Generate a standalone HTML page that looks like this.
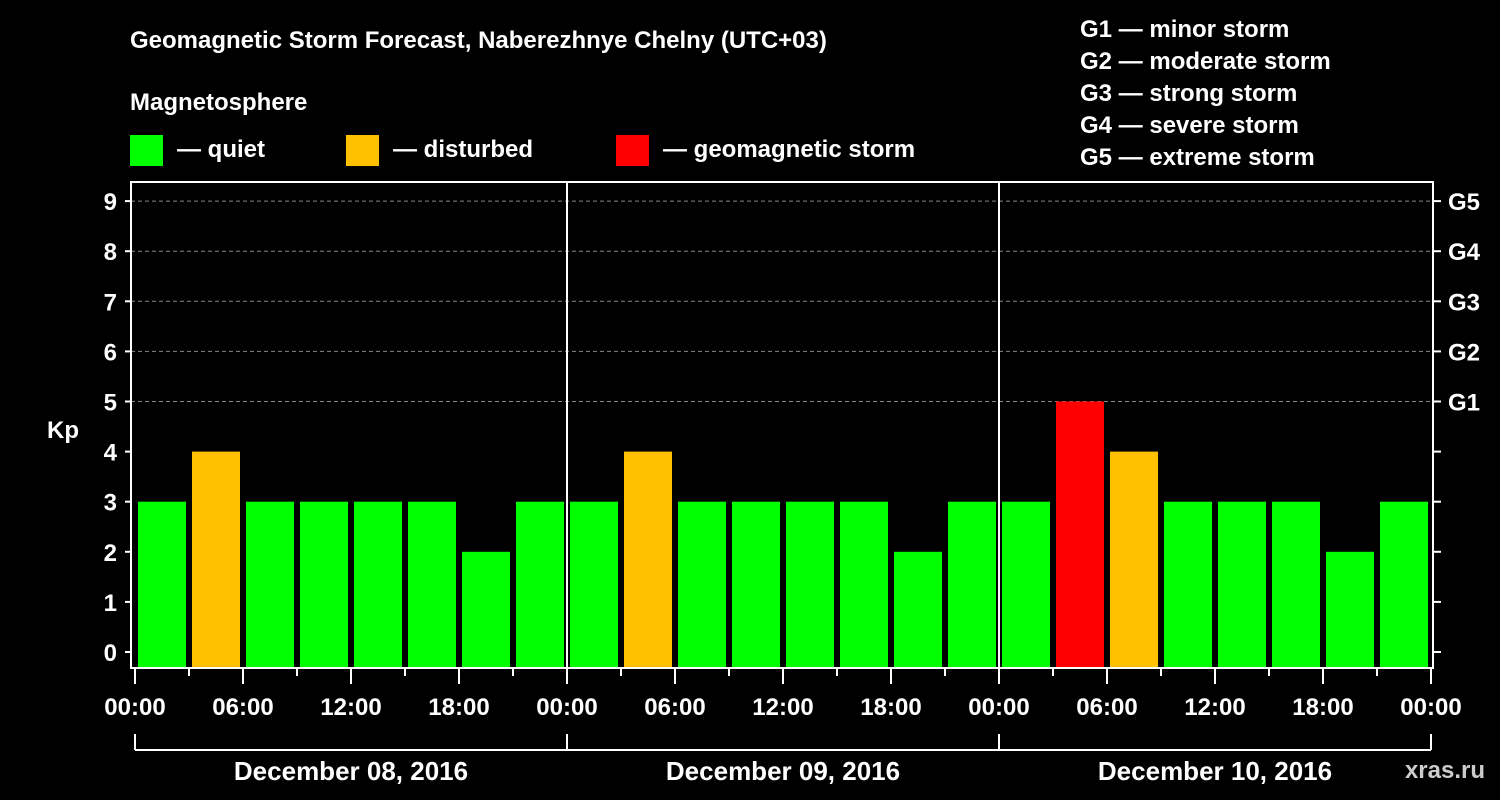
<!DOCTYPE html>
<html><head><meta charset="utf-8"><style>
body{margin:0;background:#000;width:1500px;height:800px;overflow:hidden}
svg{display:block}
text{font-family:"Liberation Sans",sans-serif;font-weight:bold;fill:#fff}
</style></head><body>
<svg id="c" width="1500" height="800">
<text x="130" y="48" font-size="24">Geomagnetic Storm Forecast, Naberezhnye Chelny (UTC+03)</text>
<text x="130" y="110" font-size="24">Magnetosphere</text>
<rect x="130" y="135" width="33" height="31" fill="#00ff00"/>
<text x="177" y="157" font-size="24">— quiet</text>
<rect x="346" y="135" width="33" height="31" fill="#ffc000"/>
<text x="393" y="157" font-size="24">— disturbed</text>
<rect x="616" y="135" width="33" height="31" fill="#ff0000"/>
<text x="663" y="157" font-size="24">— geomagnetic storm</text>
<g font-size="24">
<text x="1080" y="37">G1 — minor storm</text>
<text x="1080" y="69">G2 — moderate storm</text>
<text x="1080" y="101">G3 — strong storm</text>
<text x="1080" y="133">G4 — severe storm</text>
<text x="1080" y="165">G5 — extreme storm</text>
</g>
<text x="63" y="438" font-size="24" text-anchor="middle">Kp</text>
<text x="1485" y="778" font-size="24" text-anchor="end" fill="#ccc" style="fill:#ccc">xras.ru</text>
<g id="plot"></g>
</svg>
<script>
const kpValues=[3,4,3,3,3,3,2,3, 3,4,3,3,3,3,2,3, 3,5,4,3,3,3,2,3];
const dayLabels=["December 08, 2016","December 09, 2016","December 10, 2016"];
const timeLabels=["00:00","06:00","12:00","18:00"];
const yTicks=[0,1,2,3,4,5,6,7,8,9];
const gLabels=["G1","G2","G3","G4","G5"];
const NS="http://www.w3.org/2000/svg";
const g=document.getElementById('plot');
const X0=135,SLOT=54,L=131,R=1433,T=182,B=668;
const x=i=>X0+i*SLOT;
const y=v=>652-50.1*v;
function mk(t,a,p){const e=document.createElementNS(NS,t);for(const k in a)e.setAttribute(k,a[k]);(p||g).appendChild(e);return e;}
// grid
for(let v=5;v<=9;v++){const l=mk('line',{x1:L,x2:R,y1:y(v),y2:y(v),stroke:'#888','stroke-dasharray':'4,3','stroke-width':1});

}
// bars
kpValues.forEach((v,i)=>{const c=v>=5?'#ff0000':v>=4?'#ffc000':'#00ff00';
const r=mk('rect',{x:x(i)+3,y:y(v),width:48,height:B-y(v),fill:c});

});
// frame
const f=mk('rect',{x:L,y:T,width:R-L,height:B-T,fill:'none',stroke:'#fff','stroke-width':2});


for(let d=1;d<dayLabels.length;d++){const l=mk('line',{x1:x(d*8),x2:x(d*8),y1:T,y2:B,stroke:'#fff','stroke-width':2});

}
// y ticks
yTicks.forEach(v=>{mk('line',{x1:L-6,x2:L,y1:y(v),y2:y(v),stroke:'#fff','stroke-width':2});
mk('line',{x1:R,x2:R+8,y1:y(v),y2:y(v),stroke:'#fff','stroke-width':2});
const t=mk('text',{x:L-14,y:y(v)+9,'font-size':24,'text-anchor':'end'});t.textContent=v;

});
gLabels.forEach((s,i)=>{const t=mk('text',{x:1448,y:y(5+i)+9,'font-size':24});t.textContent=s;

});
// x ticks
for(let i=0;i<=kpValues.length;i++){const major=i%2==0;
mk('line',{x1:x(i),x2:x(i),y1:B,y2:B+(major?16:8),stroke:'#fff','stroke-width':2});
if(major){const t=mk('text',{x:x(i),y:715,'font-size':24,'text-anchor':'middle'});
t.textContent=timeLabels[(i/2)%4];

}}
// day brackets
mk('line',{x1:x(0),x2:x(kpValues.length),y1:750,y2:750,stroke:'#fff','stroke-width':2});
for(let d=0;d<=dayLabels.length;d++)mk('line',{x1:x(d*8),x2:x(d*8),y1:734,y2:750,stroke:'#fff','stroke-width':2});
dayLabels.forEach((s,d)=>{const t=mk('text',{x:x(d*8+4),y:780,'font-size':26,'text-anchor':'middle'});t.textContent=s;

});
</script>
</body></html>
